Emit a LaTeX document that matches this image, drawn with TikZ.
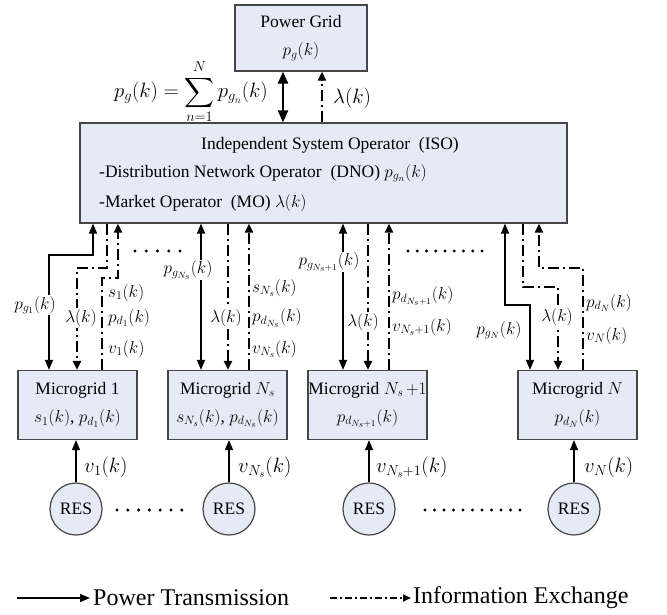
\documentclass[tikz,border=0pt]{standalone}
\usepackage{amsmath}
\usepackage{fontspec}
\setmainfont{Liberation Serif}
\usetikzlibrary{arrows.meta}
\definecolor{boxfill}{RGB}{228,235,246}
\definecolor{boxline}{RGB}{70,70,70}
\begin{document}
\begin{tikzpicture}[x=1pt,y=-1pt,
  every node/.style={font=\fontsize{17.5}{28}\selectfont},
  box/.style={draw=boxline, line width=1.2pt, fill=boxfill, inner sep=0pt},
  pw/.style={line width=1.5pt, -{Triangle[length=10pt,width=8pt]}},
  pwd/.style={line width=1.5pt, {Triangle[length=10pt,width=8pt]}-{Triangle[length=10pt,width=8pt]}},
  info/.style={line width=2pt, dash pattern=on 11pt off 4pt on 2pt off 4pt, -{Triangle[length=9pt,width=8pt]}},
  wl/.style={fill=white, inner sep=1pt},
  rl/.style={anchor=west, inner sep=0pt},
  big/.style={font=\fontsize{21}{24}\selectfont},
  legend/.style={font=\fontsize{24}{28}\selectfont},
  res/.style={circle, draw=boxline, fill=boxfill, line width=1.2pt, minimum size=52pt, inner sep=0pt},
  mg/.style={box, minimum width=119pt, minimum height=69pt, align=center},
]
\useasboundingbox (0,0) rectangle (667,614);

% boxes
\node[box, minimum width=132pt, minimum height=66pt, align=center] (pg) at (301,38) {Power Grid\\$p_{g}(k)$};
\node[box, minimum width=487pt, minimum height=100pt] (iso) at (323.5,173) {};
\node[inner sep=0pt] (isot) at (330,145) {Independent System Operator\ \ (ISO)};
\node[rl] (dno) at (99,173) {-Distribution Network Operator\ \ (DNO)\ $p_{g_n}(k)$};
\node[rl] (mo) at (99,203) {-Market Operator\ \ (MO)\ $\lambda(k)$};

\node[mg] (mg1) at (77.5,405) {Microgrid 1\\$s_1(k)$, $p_{d_1}(k)$};
\node[mg] (mgs) at (227.5,405) {Microgrid $N_s$\\$s_{N_s}(k)$, $p_{d_{N_s}}(k)$};
\node[mg] (mgs1) at (367.5,405) {Microgrid $N_s\,{+}1$\\$p_{d_{N_s+1}}(k)$};
\node[mg] (mgn) at (577.5,405) {Microgrid $N$\\$p_{d_N}(k)$};

\node[res] (res1) at (76,509) {RES};
\node[res] (ress) at (229,509) {RES};
\node[res] (ress1) at (369,509) {RES};
\node[res] (resn) at (574,509) {RES};

% top connectors
\draw[line width=2.5pt, {Triangle[length=12pt,width=10pt]}-{Triangle[length=12pt,width=10pt]}] (283,0 |- pg.south) -- (283,0 |- iso.north);
\draw[info, line width=2.5pt] (322,0 |- iso.north) -- (322,0 |- pg.south);
\node[inner sep=0pt, font=\fontsize{20}{24}\selectfont] (sum) at (191,92) {$\displaystyle p_{g}(k)=\sum_{n=1}^{N} p_{g_n}(k)$};
\node[rl, big] (lamtop) at (333,98) {$\lambda(k)$};

% Microgrid 1
\draw[pwd] (93,0 |- iso.south) -- (93,255) -- (49,255) -- (49,0 |- mg1.north);
\node[wl] (lpg1) at (35,305) {$p_{g_1}(k)$};
\draw[info] (107,0 |- iso.south) -- (107,268) -- (77,268) -- (77,0 |- mg1.north);
\node[wl] (ll1) at (81,318) {$\lambda(k)$};
\draw[info] (102,0 |- mg1.north) -- (102,278) -- (118,278) -- (118,0 |- iso.south);
\node[rl] (s1) at (108,293) {$s_1(k)$};
\node[rl] (pd1) at (108,318) {$p_{d_1}(k)$};
\node[rl] (v1a) at (108,349) {$v_1(k)$};
\foreach \i in {0,...,4} \fill (135+\i*11.25,251) circle (1.7);

% Microgrid Ns
\draw[pwd] (201,0 |- iso.south) -- (201,0 |- mgs.north);
\node[wl] (lpgs) at (188,270) {$p_{g_{N_s}}(k)$};
\draw[info] (228,0 |- iso.south) -- (228,0 |- mgs.north);
\node[wl] (lls) at (226,318) {$\lambda(k)$};
\draw[info] (249,0 |- mgs.north) -- (249,0 |- iso.south);
\node[rl] (ss) at (252,288) {$s_{N_s}(k)$};
\node[rl] (pds) at (252,318) {$p_{d_{N_s}}(k)$};
\node[rl] (vsa) at (252,349) {$v_{N_s}(k)$};

% Microgrid Ns+1
\draw[pwd] (343,0 |- iso.south) -- (343,0 |- mgs1.north);
\node[wl] (lpgs1) at (329,262) {$p_{g_{N_s+1}}(k)$};
\draw[info] (368,0 |- iso.south) -- (368,0 |- mgs1.north);
\node[wl] (lls1) at (363,322) {$\lambda(k)$};
\draw[info] (389,0 |- mgs1.north) -- (389,0 |- iso.south);
\node[rl] (pds1) at (392,296) {$p_{d_{N_s+1}}(k)$};
\node[rl] (vs1a) at (392,327) {$v_{N_s+1}(k)$};
\foreach \i in {0,...,8} \fill (408+\i*9.25,251) circle (1.7);

% Microgrid N
\draw[pwd] (505,0 |- iso.south) -- (505,305) -- (530,305) -- (530,0 |- mgn.north);
\node[wl] (lpgn) at (499,330) {$p_{g_N}(k)$};
\draw[info] (523,0 |- iso.south) -- (523,287) -- (558,287) -- (558,0 |- mgn.north);
\node[wl] (lln) at (557,317) {$\lambda(k)$};
\draw[info] (583,0 |- mgn.north) -- (583,268) -- (539,268) -- (539,0 |- iso.south);
\node[rl] (pdn) at (586,303) {$p_{d_N}(k)$};
\node[rl] (vna) at (586,336) {$v_N(k)$};

% RES to microgrids
\draw[pw] (res1.north) -- (res1.north |- mg1.south);
\draw[pw] (ress.north) -- (ress.north |- mgs.south);
\draw[pw] (ress1.north) -- (ress1.north |- mgs1.south);
\draw[pw] (resn.north) -- (resn.north |- mgn.south);
\node[rl, big] (v1) at (84,467) {$v_1(k)$};
\node[rl, big] (vs) at (238,467) {$v_{N_s}(k)$};
\node[rl, big] (vs1) at (376,467) {$v_{N_s+1}(k)$};
\node[rl, big] (vn) at (584,467) {$v_N(k)$};
\foreach \i in {0,...,6} \fill (117+\i*10.8,510) circle (1.7);
\foreach \i in {0,...,10} \fill (425+\i*9.5,510) circle (1.7);

% legend
\coordinate (lga) at (17,598);
\coordinate (lgb) at (90,598);
\draw[pw] (lga) -- (lgb);
\node[rl, legend] (lt1) at (93,598) {Power Transmission};
\coordinate (lgc) at (330,598);
\coordinate (lgd) at (411,598);
\draw[line width=1.6pt, dash pattern=on 7pt off 3pt on 2pt off 3pt, -{Triangle[length=8pt,width=7pt]}] (lgc) -- (lgd);
\node[rl, legend] (lt2) at (413,598) {Information Exchange};
\end{tikzpicture}
\end{document}
